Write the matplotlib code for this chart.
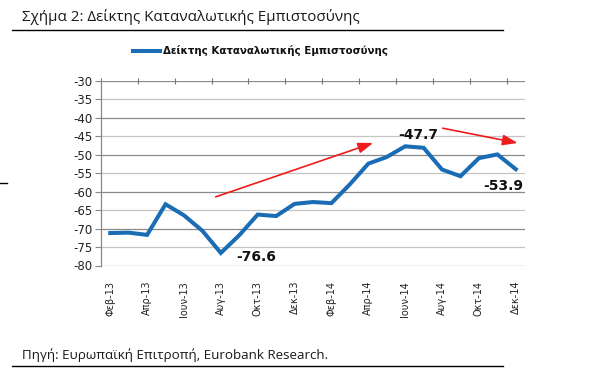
import matplotlib
matplotlib.use("Agg")
import matplotlib.pyplot as plt
from matplotlib.lines import Line2D
from matplotlib.ticker import FixedLocator, FixedFormatter
from matplotlib import font_manager

months = ["Φεβ-13", "Μαρ-13", "Απρ-13", "Μαϊ-13", "Ιουν-13", "Ιουλ-13", "Αυγ-13", "Σεπ-13",
          "Οκτ-13", "Νοε-13", "Δεκ-13", "Ιαν-14", "Φεβ-14", "Μαρ-14", "Απρ-14", "Μαϊ-14",
          "Ιουν-14", "Ιουλ-14", "Αυγ-14", "Σεπ-14", "Οκτ-14", "Νοε-14", "Δεκ-14"]
values = [-71.2, -71.1, -71.7, -63.4, -66.4, -70.6, -76.6, -71.8, -66.2, -66.6, -63.3, -62.8,
          -63.1, -58.0, -52.4, -50.6, -47.7, -48.1, -54.0, -55.8, -50.9, -49.9, -53.9]
series_name = "Δείκτης Καταναλωτικής Εμπιστοσύνης"
title = "Σχήμα 2: Δείκτης Καταναλωτικής Εμπιστοσύνης"
source = "Πηγή: Ευρωπαϊκή Επιτροπή, Eurobank Research."
y_ticks = [-30, -35, -40, -45, -50, -55, -60, -65, -70, -75, -80]
labelled = [(6, "-76.6"), (16, "-47.7"), (22, "-53.9")]

names = {f.name for f in font_manager.fontManager.ttflist}
narrow = "Liberation Sans Narrow" in names
head_family = "Liberation Sans Narrow" if narrow else "Open Sans"
title_size = 13.5 if narrow else 10.9
source_size = 10.5 if narrow else 9.6

W, H = 601, 369
fig = plt.figure(figsize=(W / 100, H / 100), dpi=100)
ax = fig.add_axes([101 / W, 1 - 265.5 / H, 424 / W, 184.5 / H])

n = len(values)
x = list(range(n))
blue = "#1a6db5"
ax.plot(x, values, color=blue, lw=2.9, solid_joinstyle="miter", zorder=3)
ax.set_xlim(-0.5, n - 0.5)
ax.set_ylim(-80, -30)

for v in y_ticks:
    major = (v % 10 == 0)
    ax.axhline(v, color="#8a8a8a" if major else "#c4c4c4", lw=0.9, zorder=1)

ax.set_yticks(y_ticks)
ax.set_yticklabels([str(v) for v in y_ticks], fontsize=8.5, color="#222222")
ax.tick_params(axis="y", length=4, width=0.8, color="#888888", pad=2)

boundaries = [b - 0.5 for b in range(0, n + 1, 2)]
ax.xaxis.set_major_locator(FixedLocator(boundaries))
ax.xaxis.set_major_formatter(FixedFormatter([""] * len(boundaries)))
centers = list(range(0, n, 2))
ax.xaxis.set_minor_locator(FixedLocator(centers))
ax.xaxis.set_minor_formatter(FixedFormatter([months[i] for i in centers]))
ax.tick_params(axis="x", which="major", bottom=False, top=True, direction="inout",
               length=5, width=0.8, color="#777777")
ax.tick_params(axis="x", which="minor", bottom=True, top=False, length=0,
               labelbottom=True, labelsize=7, labelrotation=90, pad=11, labelcolor="#222222")

for s in ["top", "right", "bottom"]:
    ax.spines[s].set_visible(False)
ax.spines["left"].set_color("#888888")
ax.spines["left"].set_linewidth(0.9)

offsets = {6: (1.9, -1.0), 16: (0.7, 3.2), 22: (-0.7, -4.5)}
for i, txt in labelled:
    dx, dy = offsets[i]
    ax.text(i + dx, values[i] + dy, txt, fontsize=10, fontweight="bold",
            ha="center", va="center", color="#111111", zorder=4)

for (x0, y0), (x1, y1) in [((5.72, -61.4), (14.26, -46.8)), ((18.04, -42.8), (22.1, -46.8))]:
    ax.annotate("", xy=(x1, y1), xytext=(x0, y0),
                arrowprops=dict(arrowstyle="-|>,head_length=0.9,head_width=0.32",
                                color="#ee1c1c", lw=1.2, shrinkA=0, shrinkB=0), zorder=5)

fig.add_artist(Line2D([133 / W, 160 / W], [1 - 51 / H] * 2, color=blue, lw=2.9))
fig.text(163 / W, 1 - 51 / H, series_name, fontsize=7.4, fontweight="bold",
         va="center", ha="left", color="#111111")

fig.text(22 / W, 1 - 17 / H, title, fontsize=title_size, va="center", ha="left",
         family=head_family, color="#1a1a1a")
fig.add_artist(Line2D([12 / W, 503 / W], [1 - 30 / H] * 2, color="black", lw=1.0))
fig.text(22 / W, 1 - 355 / H, source, fontsize=source_size, va="center", ha="left",
         family=head_family, color="#1a1a1a")
fig.add_artist(Line2D([12 / W, 503 / W], [1 - 366 / H] * 2, color="black", lw=1.0))
fig.add_artist(Line2D([0, 7 / W], [1 - 183 / H] * 2, color="black", lw=1.0))

fig.savefig("out.png", dpi=100)
